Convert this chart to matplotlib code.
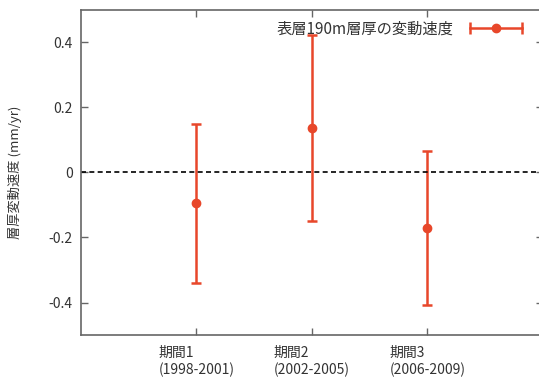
import matplotlib
matplotlib.use('Agg')
import matplotlib.pyplot as plt
from matplotlib.lines import Line2D
from matplotlib.legend_handler import HandlerLine2D, HandlerTuple

plt.rcParams['font.family'] = ['Noto Sans CJK JP', 'DejaVu Sans']

# data
periods = [1, 2, 3]
period_labels = ['期間1\n(1998-2001)', '期間2\n(2002-2005)', '期間3\n(2006-2009)']
rate = [-0.095, 0.138, -0.170]
err = [0.245, 0.286, 0.237]
series_name = '表層190m層厚の変動速度'

col = '#e8472a'
spine_col = '#666666'

fig = plt.figure(figsize=(5.39, 3.79), dpi=100)
ax = fig.add_axes([0.150, 0.116, 0.857, 0.858])

ax.errorbar(periods, rate, yerr=err, fmt='o', color=col, ms=6,
            elinewidth=1.8, capsize=3.5, capthick=1.8)
ax.axhline(0, color='black', lw=1.2, ls=(0, (3, 2)))

ax.set_xlim(0, 4)
ax.set_ylim(-0.5, 0.5)
ax.set_xticks(periods)
ax.set_xticklabels(period_labels, fontsize=10, color='#333333',
                   multialignment='left')
ax.set_yticks([-0.4, -0.2, 0, 0.2, 0.4])
ax.set_yticklabels(['-0.4', '-0.2', '0', '0.2', '0.4'], fontsize=10,
                   color='#333333')
ax.tick_params(direction='in', length=5, width=1, color=spine_col,
               top=True, right=True, pad=6)
ax.tick_params(axis='x', pad=8)
for s in ax.spines.values():
    s.set_color(spine_col)
    s.set_linewidth(1.2)

ax.set_ylabel('層厚変動速度 (mm/yr)', fontsize=9.5, color='#333333',
              labelpad=19)

# gnuplot style legend key: horizontal bar with caps and a dot
caps = Line2D([], [], color=col, lw=1.8, marker='|', ms=8, mew=1.8)
dot = Line2D([], [], color=col, lw=0, marker='o', ms=6)
ax.legend([(caps, dot)], [series_name], loc='upper right',
          frameon=False, markerfirst=False, handlelength=4.0,
          fontsize=11, borderaxespad=0.3, labelcolor='#333333',
          handler_map={caps: HandlerLine2D(numpoints=2),
                       dot: HandlerLine2D(numpoints=1),
                       tuple: HandlerTuple(ndivide=1)},
          bbox_to_anchor=(0.988, 1.0))

fig.savefig('out.png', dpi=100)
